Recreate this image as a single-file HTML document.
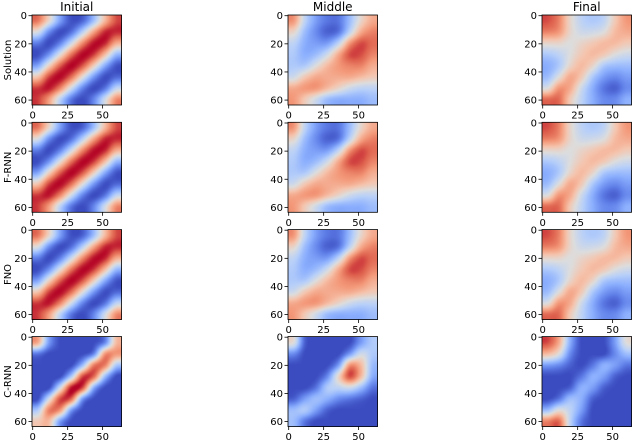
<!DOCTYPE html>
<html><head><meta charset="utf-8"><style>
body{margin:0;background:#fff;}
#wrap{position:relative;width:634px;height:440px;overflow:hidden;font-family:"DejaVu Sans","Liberation Sans",sans-serif;}
canvas{position:absolute;}
svg{position:absolute;left:0;top:0;}
</style></head><body>
<div id="wrap">
<svg id="ov" width="634" height="440"></svg>
</div>
<script>
const colTitles=["Initial","Middle","Final"];
const rowLabels=["Solution","F-RNN","FNO","C-RNN"];
const xTicks=[0,25,50];
const yTicks=[0,20,40,60];
const solInit=[
[.65,.09,-.59,-.97,-.88,-.37,.33,.8],
[-.03,-.68,-.99,-.82,-.24,.44,.9,.9],
[-.77,-1,-.74,-.12,.56,.96,.91,.41],
[-.99,-.66,0,.66,.99,.85,.29,-.41],
[-.56,.12,.74,1,.77,.17,-.52,-.95],
[.24,.82,.99,.68,.03,-.62,-.98,-.87],
[.85,.95,.59,-.09,-.72,-1,-.8,-.21],
[.85,.48,-.21,-.8,-1,-.72,-.09,.55]];
const crnnInit=[
[.4,-.6,-1,-1,-1,-1,-.7,.3],
[-.8,-1,-1,-1,-1,-.7,.5,.5],
[-1,-1,-1,-1,-.4,.6,.6,-.3],
[-1,-1,-1,-.3,.8,.7,-.4,-1],
[-1,-1,-.1,.95,.8,-.5,-1,-1],
[-1,-.1,.8,.7,-.6,-1,-1,-1],
[-.3,.6,.5,-.6,-1,-1,-1,-1],
[.2,.3,-.6,-1,-1,-1,-1,-1]];
const solMid=[
[.5,-.2,-.6,-.8,-.8,-.4,.1,.4],
[.1,-.4,-.7,-.9,-.8,-.2,.4,.6],
[-.2,-.5,-.6,-.6,-.2,.5,.8,.7],
[-.3,-.5,-.4,-.1,.4,.8,.8,.6],
[-.3,-.3,0,.3,.5,.6,.6,.4],
[-.1,.2,.4,.4,.4,.4,.3,.2],
[.4,.5,.5,.3,.1,-.1,-.2,-.2],
[.5,.2,-.1,-.4,-.5,-.5,-.5,-.4]];
const crnnMid=[
[0,-.9,-1,-1,-1,-1,-.6,-.3],
[-.7,-1,-1,-1,-1,-.6,-.1,-.3],
[-1,-1,-1,-1,-.6,.5,.3,-.4],
[-1,-1,-1,-.7,.1,.8,.3,-.5],
[-1,-1,-.8,-.3,-.2,-.1,-.4,-.8],
[-.9,-.6,-.4,-.5,-.7,-.8,-.9,-1],
[-.4,-.3,-.6,-.9,-1,-1,-1,-1],
[-.4,-.8,-1,-1,-1,-1,-1,-1]];
const solFinal=[
[.8,.6,.1,-.2,-.3,-.2,.2,.5],
[.6,.5,.1,-.1,-.1,0,.3,.4],
[.1,.1,0,.1,.2,.3,.3,.2],
[-.3,-.2,0,.2,.3,.2,0,-.1],
[-.5,-.3,.1,.3,.1,-.3,-.4,-.4],
[-.4,0,.4,.2,-.3,-.6,-.7,-.6],
[0,.5,.4,-.1,-.5,-.8,-.9,-.7],
[.7,.7,.2,-.2,-.5,-.7,-.7,-.5]];
const crnnFinal=[
[.8,.4,-.5,-1,-1,-1,-.6,0],
[.3,0,-.7,-1,-1,-1,-.7,-.4],
[-.6,-.7,-.9,-1,-.8,-.5,-.6,-.8],
[-1,-1,-1,-.8,-.5,-.6,-.9,-1],
[-1,-1,-.9,-.5,-.6,-.9,-1,-1],
[-1,-.8,-.4,-.5,-.9,-1,-1,-1],
[-.4,0,-.2,-.6,-1,-1,-1,-1],
[.6,.7,-.2,-.8,-1,-1,-1,-1]];
const panels=[[solInit,solMid,solFinal],[solInit,solMid,solFinal],[solInit,solMid,solFinal],[crnnInit,crnnMid,crnnFinal]];

const lefts=[32,288,542], tops=[15,122.3,229.5,336.5], W=89.5, H=90, N=64;
const cm=[[59,76,192],[98,130,234],[141,176,254],[184,208,249],[221,221,221],[245,196,173],[244,154,123],[222,96,77],[180,4,38]];
function color(v){let t=Math.max(0,Math.min(1,(v+1)/2))*8;let i=Math.min(7,Math.floor(t)),f=t-i;
 return cm[i].map((c,k)=>Math.round(c+(cm[i+1][k]-c)*f));}
function cr(p0,p1,p2,p3,t){return 0.5*((2*p1)+(-p0+p2)*t+(2*p0-5*p1+4*p2-p3)*t*t+(-p0+3*p1-3*p2+p3)*t*t*t);}
function sample(g,x,y){const n=g.length;let gx=(x/N)*n-0.5, gy=(y/N)*n-0.5;
 const x0=Math.floor(gx),y0=Math.floor(gy),fx=gx-x0,fy=gy-y0;
 const cl=i=>Math.max(0,Math.min(n-1,i));
 const rows=[];
 for(let j=-1;j<3;j++){const r=g[cl(y0+j)];rows.push(cr(r[cl(x0-1)],r[cl(x0)],r[cl(x0+1)],r[cl(x0+2)],fx));}
 return cr(rows[0],rows[1],rows[2],rows[3],fy);}
const wrap=document.getElementById('wrap'), ov=document.getElementById('ov'), NS="http://www.w3.org/2000/svg";
function mk(tag,attrs,txt){const e=document.createElementNS(NS,tag);for(const k in attrs)e.setAttribute(k,attrs[k]);if(txt!==undefined)e.textContent=txt;ov.appendChild(e);return e;}
const xs=(c,v)=>lefts[c]+(v+0.5)/N*W;
const ys=(r,v)=>tops[r]+(v+0.5)/N*H;
for(let r=0;r<4;r++)for(let c=0;c<3;c++){
 const cv=document.createElement('canvas');
 
 
 const pw=90,ph=90;cv.width=pw;cv.height=ph;
 cv.style.left=lefts[c]+'px';cv.style.top=tops[r]+'px';cv.style.width=W+'px';cv.style.height=H+'px';
 const ctx=cv.getContext('2d'),im=ctx.createImageData(pw,ph),g=panels[r][c];
 for(let y=0;y<ph;y++)for(let x=0;x<pw;x++){const col=color(sample(g,(x+0.5)/pw*N,(y+0.5)/ph*N));const o=(y*pw+x)*4;im.data[o]=col[0];im.data[o+1]=col[1];im.data[o+2]=col[2];im.data[o+3]=255;}
 ctx.putImageData(im,0,0);
 wrap.insertBefore(cv,ov);
 const fr=mk('rect',{x:lefts[c],y:tops[r],width:W,height:H,fill:'none',stroke:'#000','stroke-width':0.8});
 
 
 xTicks.forEach(v=>{const x=xs(c,v);mk('line',{x1:x,x2:x,y1:tops[r]+H,y2:tops[r]+H+3.5,stroke:'#000','stroke-width':0.8});
  const t=mk('text',{x:x,y:tops[r]+H+13.5,'font-size':10,'text-anchor':'middle'},v);
  
  });
 yTicks.forEach(v=>{const y=ys(r,v);mk('line',{x1:lefts[c]-3.5,x2:lefts[c],y1:y,y2:y,stroke:'#000','stroke-width':0.8});
  const t=mk('text',{x:lefts[c]-5,y:y+3.5,'font-size':10,'text-anchor':'end'},v);
  
  });
}
colTitles.forEach((s,c)=>{const t=mk('text',{x:lefts[c]+W/2,y:11,'font-size':12,'text-anchor':'middle'},s);
 
 });
rowLabels.forEach((s,r)=>{const cy=tops[r]+H/2;const t=mk('text',{x:0,y:0,'font-size':10,'text-anchor':'middle',transform:`translate(11,${cy}) rotate(-90)`},s);
 
 });
</script>
</body></html>
